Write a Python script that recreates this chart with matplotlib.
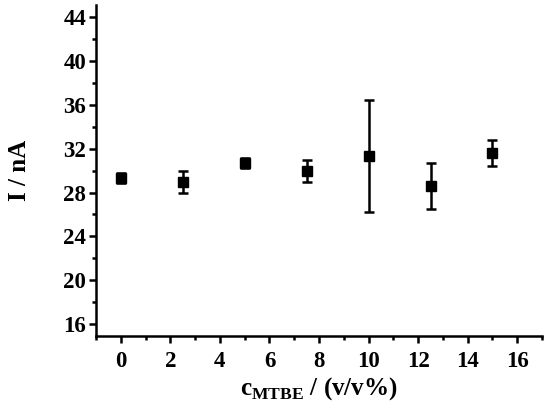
from matplotlib import pyplot as plt
from matplotlib.ticker import MultipleLocator

# data
conc = [0, 2.5, 5, 7.5, 10, 12.5, 15]
current = [29.3, 29.0, 30.7, 30.0, 31.3, 28.6, 31.6]
err = [0.45, 1.0, 0.45, 1.0, 5.1, 2.1, 1.2]

plt.rcParams['font.family'] = 'Liberation Serif'
plt.rcParams['font.weight'] = 'bold'
plt.rcParams['mathtext.fontset'] = 'custom'
plt.rcParams['mathtext.bf'] = 'Liberation Serif:bold'
plt.rcParams['mathtext.rm'] = 'Liberation Serif:bold'

fig = plt.figure(figsize=(5.5, 4.13), dpi=100)
ax = fig.add_axes([0.1745, 0.186, 0.811, 0.802])

ax.errorbar(conc, current, yerr=err, fmt='s', color='black', markersize=7.5,
            elinewidth=1.8, capsize=3.5, capthick=1.8)

ax.set_xlim(-1, 17)
ax.set_ylim(14.9, 45.1)
ax.xaxis.set_major_locator(MultipleLocator(2))
ax.xaxis.set_minor_locator(MultipleLocator(1))
ax.yaxis.set_major_locator(MultipleLocator(4))
ax.yaxis.set_minor_locator(MultipleLocator(2))
ax.set_yticks(range(16, 45, 4))

for side in ['top', 'right']:
  ax.spines[side].set_visible(False)
for side in ['left', 'bottom']:
  ax.spines[side].set_linewidth(1.8)

ax.tick_params(which='major', direction='out', length=5, width=1.8, labelsize=16.5, pad=2)
ax.tick_params(which='minor', direction='out', length=3, width=1.8)
ax.tick_params(axis='x', which='major', pad=6)

ax.set_ylabel('I / nA', fontsize=18, fontweight='bold')
ax.yaxis.set_label_coords(-0.145, 0.5)
ax.set_xlabel(r'$\mathbf{c}_{\mathbf{MTBE}}$ / (v/v%)', fontsize=18, fontweight='bold', labelpad=2)

fig.savefig('out.png', dpi=100)
